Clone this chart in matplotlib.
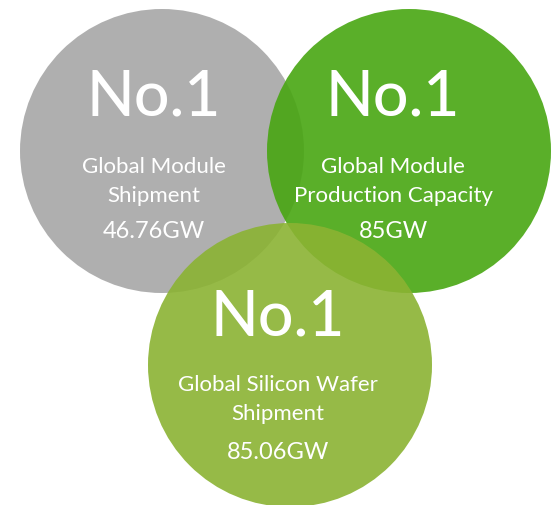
import matplotlib.pyplot as plt
from matplotlib.patches import Circle

# values shown in the three circles
ranks = ['No.1', 'No.1', 'No.1']
titles = ['Global Module\nShipment',
          'Global Module\nProduction Capacity',
          'Global Silicon Wafer\nShipment']
values = [46.76, 85, 85.06]
units = ['GW', 'GW', 'GW']

# layout (pixels, y downward)
centers = [(162, 152), (409, 152), (290, 366)]
radius = 142
text_x = [154, 393, 278]
rank_y = [97, 97, 318]
title_y = [[167, 196], [167, 196], [385, 414]]
value_y = [232, 232, 453]
colors = ['#a7a7a7', '#48a612', '#8bb333']

plt.rcParams['font.family'] = ['Lato', 'DejaVu Sans']

fig = plt.figure(figsize=(5.51, 5.06), dpi=100)
ax = fig.add_axes([0, 0, 1, 1])
ax.set_xlim(0, 551)
ax.set_ylim(506, 0)
ax.set_aspect('equal')
ax.axis('off')

for i in range(3):
    ax.add_patch(Circle(centers[i], radius, facecolor=colors[i],
                        edgecolor='none', alpha=0.9, zorder=i))

for i in range(3):
    z = 10
    ax.text(text_x[i], rank_y[i], ranks[i], ha='center', va='center',
            color='white', fontsize=45, fontweight='medium', zorder=z)
    for line, yy in zip(titles[i].split('\n'), title_y[i]):
        ax.text(text_x[i], yy, line, ha='center', va='center',
                color='white', fontsize=16, zorder=z)
    v = values[i]
    vs = f'{v:g}{units[i]}'
    ax.text(text_x[i], value_y[i], vs, ha='center', va='center',
            color='white', fontsize=17, zorder=z)

fig.savefig('out.png', dpi=100)
